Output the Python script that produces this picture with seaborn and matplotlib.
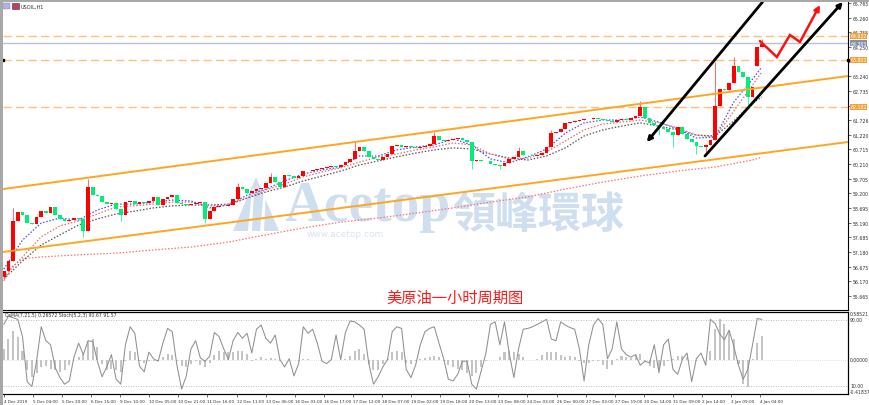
import numpy as np
import pandas as pd
import matplotlib
matplotlib.use("Agg")
import matplotlib.pyplot as plt
import matplotlib.transforms as mtransforms
from matplotlib.patches import Rectangle, Polygon
import seaborn as sns

# USOIL H1, 4 Dec 2019 - 4 Jan 2020
# one candle here = 3 hourly bars (bar index = 3 * i)
close = [56.52, 56.87, 58.25, 58.56, 58.45, 58.18, 58.14, 58.39, 58.59, 58.52,
         58.73, 58.45, 58.32, 58.25, 58.28, 58.35, 58.32, 57.90, 59.42, 59.14,
         59.11, 58.90, 58.83, 58.87, 58.66, 58.45, 58.90, 58.94, 58.83, 58.90,
         58.87, 58.94, 59.08, 58.80, 59.01, 59.08, 59.14, 58.87, 58.83, 58.80,
         58.83, 58.87, 58.90, 58.32, 58.59, 58.73, 58.77, 58.76, 58.80, 59.01,
         59.42, 59.35, 59.21, 59.28, 59.35, 59.39, 59.56, 59.77, 59.59, 59.42,
         59.83, 59.80, 59.73, 59.80, 59.97, 59.96, 60.01, 60.04, 60.08, 60.11,
         60.14, 60.11, 60.18, 60.28, 60.39, 60.66, 60.80, 60.66, 60.46, 60.39,
         60.35, 60.45, 60.56, 60.83, 60.87, 60.80, 60.83, 60.80, 60.77, 60.80,
         60.83, 60.90, 61.18, 61.04, 61.01, 61.04, 61.08, 61.11, 61.04, 60.97,
         60.32, 60.35, 60.32, 60.31, 60.21, 60.18, 60.14, 60.25, 60.39, 60.45,
         60.66, 60.52, 60.53, 60.49, 60.52, 60.59, 60.80, 61.28, 61.32, 61.42,
         61.63, 61.66, 61.70, 61.73, 61.77, 61.76, 61.80, 61.77, 61.73, 61.70,
         61.66, 61.73, 61.77, 61.73, 61.80, 61.87, 62.18, 61.80, 61.63, 61.56,
         61.49, 61.42, 61.32, 61.21, 61.49, 61.25, 61.08, 60.97, 60.83, 60.80,
         60.87, 61.04, 62.21, 62.80, 62.77, 63.01, 63.59, 63.39, 63.21, 62.52,
         62.87, 64.25, 64.35]
first_open = 56.30
open_gap = {161: 63.59}   # opening gap on 3 Jan
wick_high = {2: 58.70, 18: 59.70, 50: 59.56, 57: 59.90, 75: 60.97, 92: 61.32,
             110: 60.80, 117: 61.40, 136: 62.40, 152: 63.73, 156: 63.90, 162: 64.52}
wick_low = {0: 56.25, 17: 57.70, 25: 58.25, 43: 58.18, 100: 60.04, 106: 60.04,
            140: 61.20, 143: 60.80, 148: 60.56, 150: 60.56, 159: 62.18}

# moving averages (fast / mid / slow / long), sampled every 12 bars
ma_bars = list(range(0, 481, 12)) + [486]
ma_fast = [56.59, 57.59, 58.18, 58.35, 58.28, 58.63, 58.83, 58.83, 58.90, 58.97,
           58.94, 58.70, 58.80, 59.14, 59.35, 59.63, 59.87, 60.01, 60.11, 60.49,
           60.49, 60.70, 60.80, 60.87, 61.08, 60.87, 60.39, 60.25, 60.46, 60.73,
           61.28, 61.63, 61.73, 61.73, 61.83, 61.66, 61.42, 61.11, 61.14, 62.35,
           63.14, 63.56]
ma_mid = [56.32, 57.01, 57.70, 58.08, 58.25, 58.49, 58.73, 58.77, 58.83, 58.90,
          58.90, 58.77, 58.80, 59.04, 59.32, 59.52, 59.77, 59.94, 60.08, 60.28,
          60.46, 60.56, 60.70, 60.80, 60.94, 60.87, 60.56, 60.39, 60.42, 60.63,
          61.01, 61.39, 61.59, 61.66, 61.73, 61.63, 61.46, 61.21, 61.14, 62.04,
          62.94, 63.39]
ma_slow = [56.25, 56.87, 57.42, 57.77, 58.11, 58.32, 58.49, 58.59, 58.70, 58.77,
           58.80, 58.80, 58.83, 59.04, 59.25, 59.42, 59.63, 59.80, 59.97, 60.18,
           60.32, 60.46, 60.59, 60.70, 60.77, 60.73, 60.56, 60.42, 60.35, 60.49,
           60.77, 61.18, 61.39, 61.52, 61.63, 61.52, 61.39, 61.21, 61.18, 61.70,
           62.32, 62.52]
ma_long_bars = [0, 5, 12, 24, 48, 72, 96, 120, 144, 168, 192, 216, 240, 264,
                288, 312, 336, 360, 384, 408, 432, 456, 480, 486]
ma_long = [56.18, 56.66, 56.94, 57.01, 57.08, 57.14, 57.25, 57.35, 57.52, 57.77,
           58.01, 58.21, 58.35, 58.52, 58.70, 58.90, 59.08, 59.35, 59.59, 59.80,
           59.97, 60.11, 60.35, 60.45]

# lower window: Stoch(5,2,3) main line and OsMA(7,21,5) histogram
stoch_main = [85, 95, 93, 91, 70, 15, 9, 40, 82, 65,
              60, 32, 20, 12, 16, 45, 62, 48, 65, 64,
              40, 21, 33, 48, 18, 12, 60, 82, 74, 34,
              27, 51, 43, 40, 62, 80, 76, 35, 6, 22,
              55, 65, 44, 40, 46, 75, 70, 55, 42, 65,
              75, 68, 74, 50, 79, 84, 68, 62, 72, 42,
              33, 43, 22, 37, 82, 74, 79, 62, 40, 37,
              42, 72, 42, 75, 89, 88, 84, 79, 37, 12,
              21, 33, 42, 76, 82, 80, 30, 20, 35, 60,
              76, 80, 82, 62, 43, 18, 16, 24, 40, 40,
              12, 6, 28, 49, 85, 88, 60, 88, 50, 20,
              55, 79, 80, 82, 85, 88, 91, 67, 65, 88,
              84, 81, 79, 55, 16, 60, 84, 92, 85, 43,
              55, 88, 55, 48, 45, 48, 35, 40, 38, 60,
              26, 60, 67, 30, 24, 42, 50, 15, 43, 50,
              35, 91, 86, 73, 66, 78, 58, 35, 18, 30,
              60, 92, 91]
osma = [0.13, 0.26, 0.35, 0.28, 0.11, -0.13, -0.21, -0.16, -0.09, -0.07,
        -0.11, -0.13, -0.15, -0.13, -0.06, 0.00, 0.04, 0.07, 0.23, 0.26,
        0.16, -0.05, -0.13, -0.11, -0.13, -0.15, -0.01, 0.11, 0.09, -0.01,
        -0.04, -0.01, -0.02, -0.01, 0.04, 0.07, 0.06, -0.01, -0.07, -0.09,
        -0.05, -0.01, -0.06, -0.09, -0.04, 0.06, 0.11, 0.10, 0.09, 0.09,
        0.11, 0.11, 0.07, -0.01, 0.01, 0.04, 0.01, 0.02, 0.01, -0.01,
        0.00, 0.00, 0.00, -0.01, 0.01, 0.01, 0.00, 0.00, 0.00, 0.00,
        0.00, 0.00, 0.00, 0.01, 0.05, 0.11, 0.13, 0.07, -0.05, -0.13,
        -0.12, -0.05, 0.01, 0.09, 0.11, 0.09, -0.04, -0.05, -0.02, 0.01,
        0.02, 0.04, 0.05, 0.04, -0.01, -0.06, -0.09, -0.11, -0.13, -0.16,
        -0.20, -0.16, -0.09, -0.01, 0.00, 0.00, 0.04, 0.09, 0.11, 0.10,
        0.07, 0.04, 0.00, 0.00, 0.01, 0.06, 0.10, 0.10, 0.09, 0.06,
        0.04, 0.05, 0.04, -0.01, -0.04, -0.04, -0.02, -0.01, -0.06, -0.11,
        -0.06, 0.01, 0.05, 0.04, 0.02, 0.06, 0.07, -0.01, -0.07, -0.10,
        -0.11, -0.07, -0.02, 0.01, 0.05, 0.05, 0.04, 0.00, -0.01, 0.00,
        0.00, 0.11, 0.38, 0.50, 0.44, 0.35, 0.26, -0.05, -0.29, -0.33,
        0.01, 0.20, 0.29]

price_ticks = [65.765, 65.260, 64.755, 64.250, 63.745, 63.240, 62.735, 62.230,
               61.726, 61.220, 60.715, 60.210, 59.705, 59.200, 58.695, 58.190,
               57.685, 57.180, 56.675, 56.170, 55.665]
hidden_ticks = [63.745, 62.230]   # covered by the price tags in the screenshot
date_labels = ["4 Dec 2019", "5 Dec 04:00", "5 Dec 20:00", "6 Dec 15:00", "9 Dec 10:00",
               "10 Dec 05:00", "10 Dec 21:00", "11 Dec 16:00", "12 Dec 11:00", "13 Dec 06:00",
               "16 Dec 01:00", "16 Dec 17:00", "17 Dec 12:00", "18 Dec 07:00", "19 Dec 02:00",
               "19 Dec 18:00", "20 Dec 13:00", "23 Dec 08:00", "24 Dec 03:00", "26 Dec 00:00",
               "27 Dec 03:00", "27 Dec 19:00", "30 Dec 14:00", "31 Dec 09:00", "2 Jan 14:00",
               "3 Jan 09:00", "4 Jan 04:00"]
date_step = 18.65  # bars between date labels

levels_dashed = [64.632, 63.803, 62.182]
level_grey = 64.383

channel_bars = [-0.5, 541.2]
channel_upper = [59.35, 63.248]
channel_lower = [57.179, 60.972]

trend_left = [(486.4, 65.80), (412.2, 60.97)]   # head at second point
trend_right = [(449.5, 60.49), (537.9, 65.80)]  # head at second point
forecast_bars = [484.7, 495.6, 504.0, 510.4, 523.2]
forecast_price = [64.455, 63.903, 64.662, 64.420, 65.696]

# ------------------------------------------------------------------
sns.set_theme(style="white")
plt.rcParams['font.family'] = ['DejaVu Sans']
plt.rcParams['axes.linewidth'] = 0.8

W, H = 870, 406
fig = plt.figure(figsize=(W / 100, H / 100), dpi=100, facecolor='white')


def fx(px):
    return px / W


def fy(py):
    return 1 - py / H


ax = fig.add_axes([fx(3), fy(311), fx(848) - fx(3), fy(3) - fy(311)])
axo = fig.add_axes([fx(3), fy(395), fx(848) - fx(3), fy(313) - fy(395)])
axs = axo.twinx()

XLIM = (-0.5, 541.2)
tick_fs = 3.3
txt_col = '#303030'

# candles
n = len(close)
df = pd.DataFrame({'bar': np.arange(n) * 3, 'close': close})
df['open'] = [first_open] + close[:-1]
for k, v in open_gap.items():
    df.loc[k, 'open'] = v
df['high'] = df[['open', 'close']].max(axis=1)
df['low'] = df[['open', 'close']].min(axis=1)
for k, v in wick_high.items():
    df.loc[k, 'high'] = v
for k, v in wick_low.items():
    df.loc[k, 'low'] = v
up = df['close'] >= df['open']
dn = ~up

ax.vlines(df.bar[up], df.low[up], df.high[up], color='#FF6A6A', lw=0.7, zorder=3)
ax.vlines(df.bar[dn], df.low[dn], df.high[dn], color='#48F2A2', lw=0.7, zorder=3)
ax.bar(df.bar[up], (df.close - df.open)[up], bottom=df.open[up], width=2.4,
       color='#FF0000', linewidth=0, zorder=3)
ax.bar(df.bar[dn], (df.close - df.open)[dn], bottom=df.open[dn], width=2.4,
       color='#00EE76', linewidth=0, zorder=3)

# moving averages
dot = (0, (1.2, 1.4))
sns.lineplot(x=ma_long_bars, y=ma_long, ax=ax, color='#FF7070', lw=0.9, linestyle=dot, zorder=2)
sns.lineplot(x=ma_bars, y=ma_slow, ax=ax, color='#555555', lw=0.9, linestyle=dot, zorder=2)
sns.lineplot(x=ma_bars, y=ma_mid, ax=ax, color='#E07070', lw=0.9, linestyle=dot, zorder=2)
sns.lineplot(x=ma_bars, y=ma_fast, ax=ax, color='#5050F0', lw=0.9, linestyle=dot, zorder=2)

# horizontal levels
for lv in levels_dashed:
    ax.axhline(lv, color='#FFC07A', lw=1.0, ls=(0, (6, 3)), zorder=1)
ax.axhline(level_grey, color='#B7C3CF', lw=1.0, zorder=1)

# channel
ax.plot(channel_bars, channel_upper, color='#FFA51F', lw=1.4, zorder=4)
ax.plot(channel_bars, channel_lower, color='#FFA51F', lw=1.4, zorder=4)

# trend arrows
for seg in (trend_left, trend_right):
    ax.annotate('', xy=seg[1], xytext=seg[0],
                arrowprops=dict(arrowstyle='-|>', color='black', lw=2.0,
                                mutation_scale=7, shrinkA=0, shrinkB=0),
                zorder=5, annotation_clip=False)

# forecast path
ax.plot(forecast_bars[:-1], forecast_price[:-1], color='#FF1010', lw=1.8, zorder=5,
        solid_joinstyle='miter')
ax.annotate('', xy=(forecast_bars[-1], forecast_price[-1]),
            xytext=(forecast_bars[-2], forecast_price[-2]),
            arrowprops=dict(arrowstyle='-|>', color='#FF1010', lw=1.8,
                            mutation_scale=8, shrinkA=0, shrinkB=0),
            zorder=5, annotation_clip=False)

ax.set_xlim(XLIM)
ax.set_ylim(55.179, 65.80)
ax.set_xticks([])
ax.yaxis.tick_right()
ax.set_yticks(price_ticks)
ax.set_yticklabels(['' if t in hidden_ticks else f'{t:.3f}' for t in price_ticks])
ax.tick_params(axis='y', which='both', right=True, length=2.5, width=0.5,
               pad=1, labelsize=tick_fs, labelcolor=txt_col, color='#303030')
ax.set_xlabel('')
ax.set_ylabel('')
for s in ('left', 'top'):
    ax.spines[s].set_visible(False)
for s in ('right', 'bottom'):
    ax.spines[s].set_color('black')

# price tags on the right axis
ytr = mtransforms.blended_transform_factory(ax.transAxes, ax.transData)
for lv, fc in [(levels_dashed[0], '#F7A035'), (level_grey, '#7E93AA'),
               (levels_dashed[1], '#F7A035'), (levels_dashed[2], '#F7A035')]:
    ax.text(1.003, lv, f'{lv:.3f}', transform=ytr, fontsize=tick_fs, color='white',
            ha='left', va='center', zorder=6, clip_on=False,
            bbox=dict(boxstyle='square,pad=0.1', fc=fc, ec='none'))
ax.plot([XLIM[0], XLIM[1]], [levels_dashed[1]] * 2, 's', ms=1.8, color='black',
        clip_on=False, zorder=7)

# lower window
axo.bar(df.bar, osma, width=1.3, color='#C4C4C4', linewidth=0, zorder=1)
axo.axhline(0, color='#C8C8C8', lw=0.5, ls=(0, (1, 2)))
axo.set_ylim(-0.41837, 0.58521)
axo.set_xlim(XLIM)
axo.set_yticks([])
sns.lineplot(x=df.bar, y=stoch_main, ax=axs, color='#909090', lw=0.75)
for lv in (90, 10):
    axs.axhline(lv, color='#A8A8A8', lw=0.6, ls=(0, (1, 2)))
axs.set_ylim(0, 100)
axs.set_yticks([])
axs.set_ylabel('')
axo.set_xticks([k * date_step for k in range(len(date_labels))])
axo.set_xticklabels(date_labels, ha='left')
axo.tick_params(axis='x', bottom=True, length=2.5, width=0.5, pad=1,
                labelsize=3.0, labelcolor=txt_col, color='#303030')
for a in (axo, axs):
    a.spines['left'].set_visible(False)
    for s in ('right', 'top', 'bottom'):
        a.spines[s].set_color('black')

for lab, py in [('0.58521', 315), ('90.00', 321), ('0.00000', 361),
                ('10.00', 387), ('-0.41837', 393)]:
    fig.text(fx(850), fy(py), lab, fontsize=tick_fs, color=txt_col, ha='left', va='center')

fig.text(fx(5), fy(316), 'OsMA(7,21,5) 0.26572 Stoch(5,2,3) 90.67 91.57',
         fontsize=tick_fs, color=txt_col, ha='left', va='center')

# symbol label + icons
fig.add_artist(Rectangle((fx(3.5), fy(10)), fx(7), fy(4) - fy(10), transform=fig.transFigure,
                         fc='#B8B0E0', ec='#8080B0', lw=0.3))
fig.add_artist(Rectangle((fx(12), fy(10)), fx(7), fy(4) - fy(10), transform=fig.transFigure,
                         fc='#D83A3A', ec='#3050C0', lw=0.5))
fig.text(fx(21), fy(7), 'USOIL,H1', fontsize=3.6, color=txt_col, ha='left', va='center')

# watermark
wm = '#CFDFEF'
ax.text(fx(285), fy(221), 'Acetop', transform=fig.transFigure, family='Liberation Serif',
        weight='bold', fontsize=40, color=wm, ha='left', va='baseline', zorder=0.5)
ax.text(fx(452), fy(228), '領峰環球', transform=fig.transFigure,
        family=['Noto Sans CJK TC', 'DejaVu Sans'], weight='bold', fontsize=31,
        color=wm, ha='left', va='baseline', zorder=0.5)
ax.text(fx(345), fy(235), 'www.acetop.com', transform=fig.transFigure, fontsize=6.5,
        color='#D8E4F0', ha='center', va='center', zorder=0.5)
logo = Polygon([(fx(233), fy(232)), (fx(256), fy(178)), (fx(279), fy(232))],
               closed=True, transform=fig.transFigure, fc=wm, ec='none', zorder=0.5)
ax.add_artist(logo)
for x0, x1 in [(248, 252), (260, 264)]:
    ax.add_artist(Polygon([(fx(x0), fy(232)), (fx(x0 + 4), fy(190)), (fx(x1 + 2), fy(190)),
                           (fx(x1), fy(232))], closed=True, transform=fig.transFigure,
                          fc='white', ec='none', zorder=0.6))

# chart title
fig.text(fx(455), fy(298), '美原油一小时周期图', color='#FF1A1A', fontsize=11,
         ha='center', va='center', family=['Noto Sans CJK SC', 'DejaVu Sans'])

# window frame
fig.add_artist(Rectangle((0, fy(3)), 1, 1 - fy(3), transform=fig.transFigure,
                         fc='#A8A8A8', ec='none'))
fig.add_artist(Rectangle((0, 0), fx(3), 1, transform=fig.transFigure,
                         fc='#A8A8A8', ec='none'))

fig.savefig('out.png', dpi=100, facecolor='white')
